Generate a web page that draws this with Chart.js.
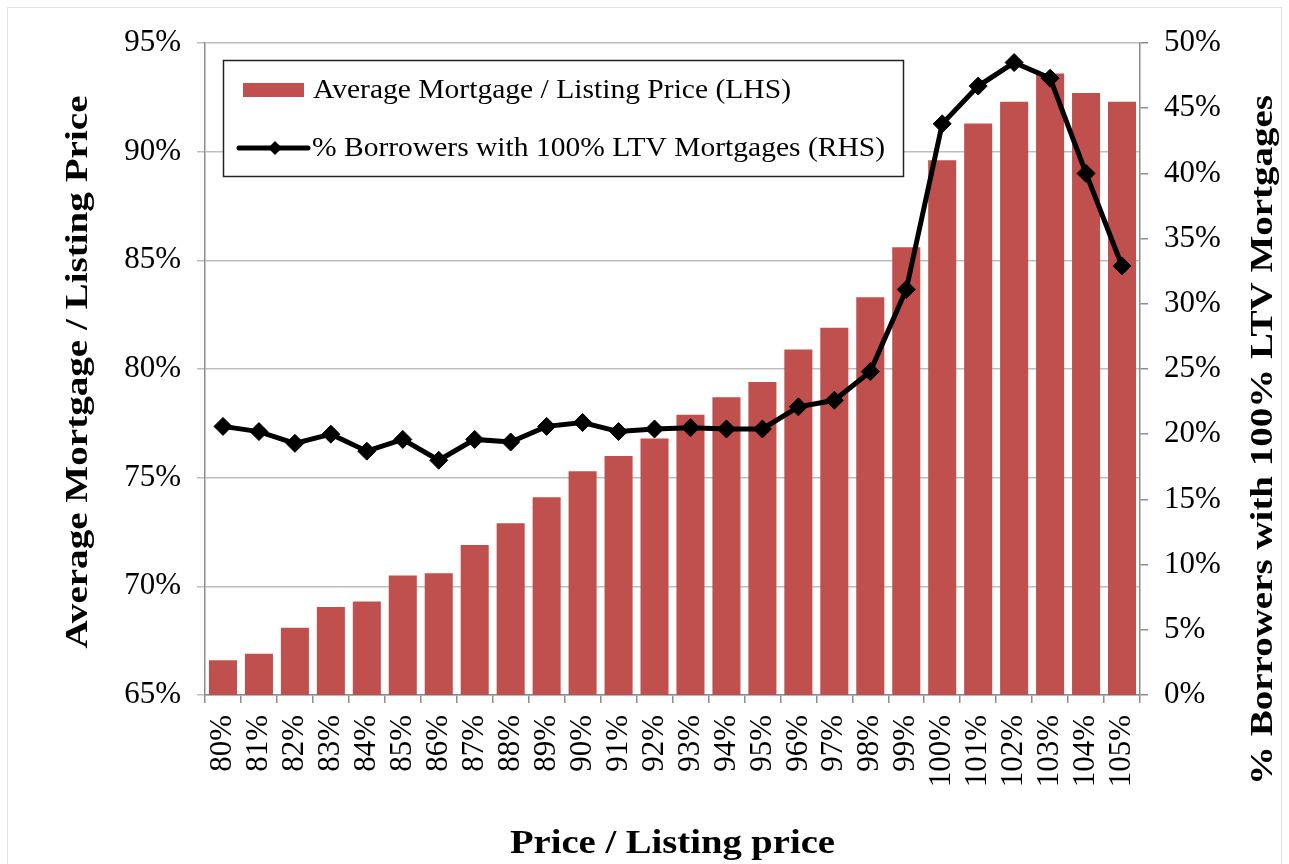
<!DOCTYPE html>
<html>
<head>
<meta charset="utf-8">
<script src="https://cdn.jsdelivr.net/npm/chart.js@4"></script>
<style>
html,body{margin:0;padding:0;background:#fff;}
canvas{display:block;}
</style>
</head>
<body>
<canvas id="c" width="1289" height="864"></canvas>
<script>
const categories = ['80%','81%','82%','83%','84%','85%','86%','87%','88%','89%','90%','91%','92%','93%','94%','95%','96%','97%','98%','99%','100%','101%','102%','103%','104%','105%'];
const avgMortgage = [66.6,66.9,68.1,69.05,69.3,70.5,70.6,71.9,72.9,74.1,75.3,76.0,76.8,77.9,78.7,79.4,80.9,81.9,83.3,85.6,89.6,91.3,92.3,93.6,92.7,92.3];
const pctBorrowers = [20.6,20.2,19.3,20.0,18.7,19.6,18.0,19.6,19.4,20.6,20.9,20.2,20.4,20.5,20.4,20.4,22.1,22.6,24.8,31.1,43.8,46.7,48.5,47.3,40.0,32.9];
const barLabel = 'Average Mortgage / Listing Price (LHS)';
const lineLabel = '% Borrowers with 100% LTV Mortgages (RHS)';
const xTitle = 'Price / Listing price';
const yTitle = 'Average Mortgage / Listing Price';
const y1Title = '% Borrowers with 100% LTV Mortgages';

const FONT = '"Liberation Serif", "Times New Roman", serif';

// draw text stretched along its reading direction to a target length
function stretchedText(ctx, text, cx, cy, font, targetLen, angle, align) {
  ctx.save();
  ctx.font = font;
  const w = ctx.measureText(text).width;
  const sx = targetLen / w;
  ctx.translate(cx, cy);
  ctx.rotate(angle);
  ctx.scale(sx, 1);
  ctx.textAlign = align || 'center';
  ctx.textBaseline = 'middle';
  ctx.fillStyle = '#000';
  ctx.fillText(text, 0, 0);
  ctx.restore();
}

const legendPlugin = {
  id: 'boxLegend',
  afterDraw(chart) {
    const ctx = chart.ctx;
    const a = chart.chartArea;
    const bx = a.left + 18, by = a.top + 17, bw = 680, bh = 116;
    const barDs = chart.data.datasets.find(d => d.type === 'bar');
    const lineDs = chart.data.datasets.find(d => d.type === 'line');
    ctx.save();
    ctx.fillStyle = '#fff';
    ctx.fillRect(bx, by, bw, bh);
    ctx.strokeStyle = '#222';
    ctx.lineWidth = 1.5;
    ctx.strokeRect(bx + 0.5, by + 0.5, bw, bh);
    // bar item
    const y1 = by + 30;
    ctx.fillStyle = barDs.backgroundColor;
    ctx.fillRect(bx + 20, y1 - 7, 61, 14);
    stretchedText(ctx, barDs.label, bx + 90, y1 + 1, '27px ' + FONT, 478, 0, 'left');
    // line item
    const y2 = by + 88;
    ctx.strokeStyle = lineDs.borderColor;
    ctx.lineWidth = 5;
    ctx.lineCap = 'round';
    ctx.beginPath();
    ctx.moveTo(bx + 16, y2);
    ctx.lineTo(bx + 85, y2);
    ctx.stroke();
    ctx.fillStyle = '#000';
    ctx.beginPath();
    const cx = bx + 52, r = 7;
    ctx.moveTo(cx, y2 - r); ctx.lineTo(cx + r, y2); ctx.lineTo(cx, y2 + r); ctx.lineTo(cx - r, y2); ctx.closePath();
    ctx.fill();
    stretchedText(ctx, lineDs.label, bx + 89, y2 + 1, '27px ' + FONT, 573, 0, 'left');
    ctx.restore();
  }
};

const titlePlugin = {
  id: 'axisTitles',
  afterDraw(chart) {
    const ctx = chart.ctx;
    const a = chart.chartArea;
    const bold = 'bold 31px ' + FONT;
    stretchedText(ctx, yTitle, 79, 372, bold, 553, -Math.PI / 2);
    stretchedText(ctx, y1Title, 1264, 440, bold, 690, -Math.PI / 2);
    stretchedText(ctx, xTitle, (a.left + a.right) / 2 + 0, 844, 'bold 33px ' + FONT, 325, 0);
  }
};

const framePlugin = {
  id: 'frame',
  beforeDraw(chart) {
    const ctx = chart.ctx;
    ctx.save();
    ctx.fillStyle = '#fff';
    ctx.fillRect(0, 0, chart.width, chart.height);
    ctx.strokeStyle = '#e3e3e3';
    ctx.lineWidth = 1;
    ctx.strokeRect(7.5, 7.5, 1274, 880);
    ctx.restore();
  }
};

new Chart(document.getElementById('c'), {
  data: {
    labels: categories,
    datasets: [
      {
        type: 'line',
        label: lineLabel,
        data: pctBorrowers,
        yAxisID: 'y1',
        borderColor: '#000',
        backgroundColor: '#000',
        borderWidth: 5,
        pointStyle: 'rectRot',
        pointRadius: 9,
        pointHoverRadius: 9,
        pointBackgroundColor: '#000',
        pointBorderColor: '#000',
        pointBorderWidth: 1,
        tension: 0,
        order: 0
      },
      {
        type: 'bar',
        label: barLabel,
        data: avgMortgage,
        yAxisID: 'y',
        backgroundColor: '#C0504D',
        barPercentage: 0.78,
        categoryPercentage: 1.0,
        order: 1
      }
    ]
  },
  plugins: [framePlugin, legendPlugin, titlePlugin],
  options: {
    responsive: false,
    animation: false,
    events: [],
    layout: { padding: { top: 43, left: 0, right: 0, bottom: 0 } },
    plugins: { legend: { display: false }, tooltip: { enabled: false } },
    scales: {
      x: {
        type: 'category',
        offset: true,
        grid: { display: true, drawOnChartArea: false, color: '#8c8c8c', lineWidth: 1.5, tickLength: 8, offset: true },
        border: { color: '#8c8c8c', width: 1.5 },
        ticks: { color: '#000', font: { family: FONT, size: 31 }, minRotation: 90, maxRotation: 90, autoSkip: false, padding: 12 },
        afterFit(s) { s.height = 169; }
      },
      y: {
        position: 'left',
        min: 65, max: 95,
        grid: { color: '#bdbdbd', lineWidth: 1.5, tickLength: 8 },
        border: { color: '#8c8c8c', width: 1.5 },
        ticks: { stepSize: 5, color: '#000', font: { family: FONT, size: 31 }, padding: 16, callback: v => v + '%' },
        afterFit(s) { s.width = 205; }
      },
      y1: {
        position: 'right',
        min: 0, max: 50,
        grid: { drawOnChartArea: false, color: '#8c8c8c', lineWidth: 1.5, tickLength: 8 },
        border: { color: '#8c8c8c', width: 1.5 },
        ticks: { stepSize: 5, color: '#000', font: { family: FONT, size: 31 }, padding: 16, callback: v => v + '%' },
        afterFit(s) { s.width = 149; }
      }
    }
  }
});
</script>
</body>
</html>
